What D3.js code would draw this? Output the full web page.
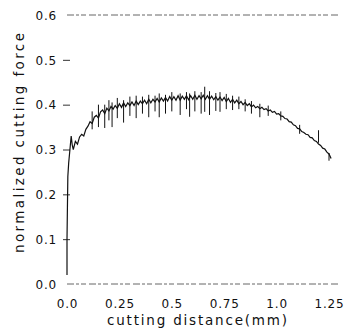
<!DOCTYPE html>
<html><head><meta charset="utf-8">
<script src="https://cdn.jsdelivr.net/npm/d3@7"></script>
<style>body{margin:0;background:#fff}svg{display:block}text{font-family:"DejaVu Sans",sans-serif;fill:#111}</style>
</head><body>
<svg id="c" width="355" height="332"></svg>
<script>
// ---- data ----
const xTicks = [0, 0.25, 0.5, 0.75, 1.0, 1.25];
const xTickLabels = ["0.0", "0.25", "0.5", "0.75", "1.0", "1.25"];
const yTicks = [0, 0.1, 0.2, 0.3, 0.4, 0.5, 0.6];
const yTickLabels = ["0.0", "0.1", "0.2", "0.3", "0.4", "0.5", "0.6"];
const xTitle = "cutting distance(mm)";
const yTitle = "normalized cutting force";

// initial rise
const startX = [0, 0, 0.002, 0.004, 0.008, 0.014, 0.020, 0.025];
const startY = [0.02, 0.10, 0.17, 0.24, 0.27, 0.30, 0.33, 0.31];
// main trace (step 0.01 from 0.03)
const traceX = [0.03,0.04,0.05,0.06,0.07,0.08,0.09,0.10,0.11,0.12,0.13,0.14,0.15,0.16,0.17,0.18,0.19,0.20,
0.21,0.22,0.23,0.24,0.25,0.26,0.27,0.28,0.29,0.30,0.31,0.32,0.33,0.34,0.35,0.36,0.37,0.38,0.39,0.40,
0.41,0.42,0.43,0.44,0.45,0.46,0.47,0.48,0.49,0.50,0.51,0.52,0.53,0.54,0.55,0.56,0.57,0.58,0.59,0.60,
0.61,0.62,0.63,0.64,0.65,0.66,0.67,0.68,0.69,0.70,0.71,0.72,0.73,0.74,0.75,0.76,0.77,0.78,0.79,0.80,
0.81,0.82,0.83,0.84,0.85,0.86,0.87,0.88,0.89,0.90,0.91,0.92,0.93,0.94,0.95,0.96,0.97,0.98,0.99,1.00,
1.01,1.02,1.03,1.04,1.05,1.06,1.07,1.08,1.09,1.10,1.11,1.12,1.13,1.14,1.15,1.16,1.17,1.18,1.19,1.20,
1.21,1.22,1.23,1.24,1.25,1.26];
const traceY = [0.300,0.318,0.312,0.328,0.334,0.330,0.345,0.352,0.362,0.358,0.372,0.376,0.370,0.384,0.388,0.380,0.392,0.386,
0.396,0.390,0.398,0.392,0.402,0.394,0.404,0.396,0.404,0.398,0.406,0.398,0.408,0.400,0.408,0.402,0.410,0.402,0.412,0.404,
0.412,0.406,0.414,0.406,0.415,0.408,0.416,0.408,0.418,0.410,0.418,0.410,0.420,0.410,0.419,0.412,0.420,0.411,0.420,0.412,
0.421,0.412,0.420,0.413,0.421,0.412,0.420,0.412,0.419,0.411,0.418,0.410,0.417,0.409,0.416,0.407,0.414,0.405,0.412,0.404,
0.410,0.402,0.407,0.400,0.405,0.398,0.402,0.395,0.399,0.393,0.396,0.391,0.394,0.389,0.391,0.386,0.388,0.383,0.385,0.379,
0.380,0.375,0.374,0.369,0.368,0.362,0.361,0.355,0.353,0.347,0.346,0.340,0.338,0.334,0.333,0.327,0.326,0.320,0.318,0.312,
0.309,0.303,0.301,0.294,0.290,0.280];
// vertical spikes: position, low, high
const spikeX  = [0.12,0.15,0.18,0.20,0.215,0.24,0.27,0.30,0.33,0.36,0.39,0.42,0.44,0.47,0.50,0.54,0.57,0.585,0.61,0.64,0.657,0.68,0.71,0.73,0.76,0.79,0.82,0.85,0.88,0.92,0.96,1.02,1.11,1.20,1.25];
const spikeLo = [0.345,0.350,0.348,0.365,0.350,0.370,0.360,0.375,0.370,0.380,0.372,0.385,0.372,0.380,0.385,0.377,0.390,0.373,0.385,0.380,0.384,0.377,0.386,0.384,0.390,0.388,0.390,0.385,0.380,0.372,0.375,0.365,0.335,0.315,0.275];
const spikeHi = [0.385,0.400,0.400,0.410,0.405,0.415,0.410,0.418,0.420,0.418,0.422,0.420,0.425,0.422,0.428,0.425,0.428,0.425,0.430,0.428,0.440,0.430,0.426,0.428,0.424,0.420,0.418,0.412,0.408,0.402,0.398,0.385,0.355,0.343,0.292];

// ---- chart ----
const svg = d3.select("#c");
const x = d3.scaleLinear().domain([0, 1.25]).range([67, 329]);
const y = d3.scaleLinear().domain([0, 0.6]).range([284, 15]);
const xEnd = 340;

// frame lines (top and bottom, dashed like a faded scan)
[0, 0.6].forEach(v => {
  svg.append("line").attr("x1", x(0)).attr("x2", xEnd).attr("y1", y(v)).attr("y2", y(v))
    .attr("stroke", "#666").attr("stroke-width", 1).attr("stroke-dasharray", "7,2,3,2,5,3");
});

// y axis ticks + labels
const yAxis = d3.axisLeft(y).tickValues(yTicks).tickSize(0).tickPadding(10)
  .tickFormat((d, i) => yTickLabels[i]);
const gy = svg.append("g").attr("transform", `translate(${x(0)},0)`).call(yAxis);
gy.select(".domain").remove();
gy.selectAll("text").style("font-size", "12px").attr("letter-spacing", "0.8").attr("dy", "0.35em");
gy.selectAll(".tick").filter(d => d > 0 && d < 0.6).append("line")
  .attr("x1", -4).attr("x2", 3).attr("stroke", "#333").attr("stroke-width", 1);

// x axis labels
const xAxis = d3.axisBottom(x).tickValues(xTicks).tickSize(0).tickPadding(15)
  .tickFormat((d, i) => xTickLabels[i]);
const gx = svg.append("g").attr("transform", `translate(0,${y(0)})`).call(xAxis);
gx.select(".domain").remove();
gx.selectAll("text").style("font-size", "12px").attr("letter-spacing", "0.8");

// titles
svg.append("text").attr("x", 197).attr("y", 325).attr("text-anchor", "middle")
  .style("font-size", "13.5px").attr("textLength", 180).attr("lengthAdjust", "spacing").text(xTitle);
svg.append("text").attr("transform", "translate(24,143) rotate(-90)").attr("text-anchor", "middle")
  .style("font-size", "13.5px").attr("textLength", 220).attr("lengthAdjust", "spacing").text(yTitle);

// data
const line = d3.line().x(d => x(d[0])).y(d => y(d[1]));
const pts = startX.map((v, i) => [v, startY[i]]).concat(traceX.map((v, i) => [v, traceY[i]]));
svg.append("path").attr("d", line(pts)).attr("fill", "none").attr("stroke", "#111").attr("stroke-width", 1.2);
svg.selectAll("line.sp").data(spikeX).enter().append("line").attr("class", "sp")
  .attr("x1", d => x(d)).attr("x2", d => x(d))
  .attr("y1", (d, i) => y(spikeLo[i])).attr("y2", (d, i) => y(spikeHi[i]))
  .attr("stroke", "#111").attr("stroke-width", 1);
</script>
</body></html>
